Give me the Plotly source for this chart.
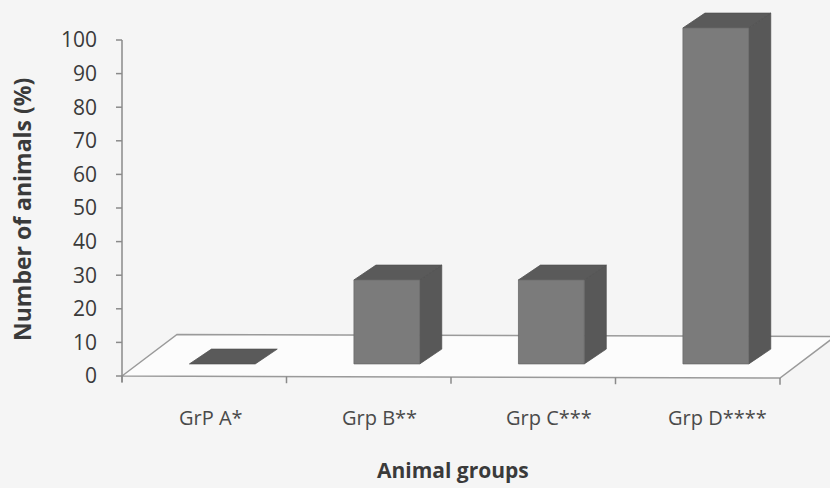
import plotly.graph_objects as go

categories = ["GrP A*", "Grp B**", "Grp C***", "Grp D****"]
values = [0, 25, 25, 100]
y_ticks = [0, 10, 20, 30, 40, 50, 60, 70, 80, 90, 100]

W, H = 830, 488
ML = 116
# geometry (in axis units)
PX_X = 164.5          # px per category
PX_Y = 3.36           # px per value unit
x_lo = -0.5 - 6 / PX_X
x_hi = -0.5 + (W - 122) / PX_X
y_lo = -(H - 376) / PX_Y
y_hi = 376 / PX_Y

floor_dx, floor_dy = 55 / PX_X, 41.5 / PX_Y
floor_drop = 0.6
bar_left, bar_right = -0.09, 0.31
bar_base = 3.6
bar_dx, bar_dy = 22 / PX_X, 4.4
n = len(categories)

fig = go.Figure()

# floor
fx = [-0.5, n - 0.5, n - 0.5 + floor_dx, -0.5 + floor_dx, -0.5]
fy = [0, -floor_drop, floor_dy - floor_drop, floor_dy, 0]
fig.add_trace(go.Scatter(x=fx, y=fy, mode="lines", fill="toself",
                         fillcolor="#fcfcfc", line=dict(color="#9a9a9a", width=1.5),
                         hoverinfo="skip", showlegend=False))

# y axis line and ticks, x category ticks
ax_x, ax_y = [-0.5, -0.5], [-1.8, y_ticks[-1]]
for t in y_ticks:
    ax_x += [None, -0.5, -0.5 - 6 / PX_X]
    ax_y += [None, t, t]
for i in range(n + 1):
    yy = -floor_drop * i / n
    ax_x += [None, i - 0.5, i - 0.5]
    ax_y += [None, yy, yy - 2.0]
fig.add_trace(go.Scatter(x=ax_x, y=ax_y, mode="lines",
                         line=dict(color="#8a8a8a", width=1.5),
                         hoverinfo="skip", showlegend=False))

# bars: side, top, front faces
for i, v in enumerate(values):
    l, r = i + bar_left, i + bar_right
    b, t = bar_base, bar_base + v
    if v > 0:
        fig.add_trace(go.Scatter(
            x=[r, r + bar_dx, r + bar_dx, r, r], y=[b, b + bar_dy, t + bar_dy, t, b],
            mode="lines", fill="toself", fillcolor="#585858",
            line=dict(color="#505050", width=0.8), hoverinfo="skip", showlegend=False))
    fig.add_trace(go.Scatter(
        x=[l, r, r + bar_dx, l + bar_dx, l], y=[t, t, t + bar_dy, t + bar_dy, t],
        mode="lines", fill="toself", fillcolor="#5a5a5a",
        line=dict(color="#525252", width=0.8), hoverinfo="skip", showlegend=False))
    if v > 0:
        fig.add_trace(go.Scatter(
            x=[l, r, r, l, l], y=[b, b, t, t, b],
            mode="lines", fill="toself", fillcolor="#7b7b7b",
            line=dict(color="#6a6a6a", width=0.8), hoverinfo="text",
            text=f"{categories[i]}: {v}", showlegend=False))

def px_to_paper(px, py):
    return (px - ML) / (W - ML), (H - py) / H

annotations = []
label_step = 1.027
for i, c in enumerate(categories):
    annotations.append(dict(x=0.041 + label_step * i, y=-(417 - 376) / PX_Y, xref="x", yref="y",
                            text=c, showarrow=False, xanchor="center", yanchor="middle",
                            font=dict(family="Open Sans", size=20, color="#4a4a4a")))
ax_, ay_ = px_to_paper(453, 470)
annotations.append(dict(x=ax_, y=ay_, xref="paper", yref="paper", text="<b>Animal groups</b>",
                        showarrow=False, xanchor="center", yanchor="middle",
                        font=dict(family="Open Sans", size=21, color="#3a3a3a")))
ax_, ay_ = px_to_paper(22, 210)
annotations.append(dict(x=ax_, y=ay_, xref="paper", yref="paper", text="<b>Number of animals (%)</b>",
                        textangle=-90, showarrow=False, xanchor="center", yanchor="middle",
                        font=dict(family="Open Sans", size=23, color="#3a3a3a")))

fig.update_layout(
    width=W, height=H,
    margin=dict(l=ML, r=0, t=0, b=0),
    paper_bgcolor="#f5f5f5", plot_bgcolor="rgba(0,0,0,0)",
    xaxis=dict(range=[x_lo, x_hi], visible=False, fixedrange=True),
    yaxis=dict(range=[y_lo, y_hi], tickvals=y_ticks, ticks="", showgrid=False,
               zeroline=False, showline=False, ticklabelstandoff=18, fixedrange=True,
               tickfont=dict(family="Open Sans", size=21, color="#3a3a3a")),
    annotations=annotations,
)
fig.write_html("out.html", post_script="document.body.style.margin='0';",
               config={"displayModeBar": False})
